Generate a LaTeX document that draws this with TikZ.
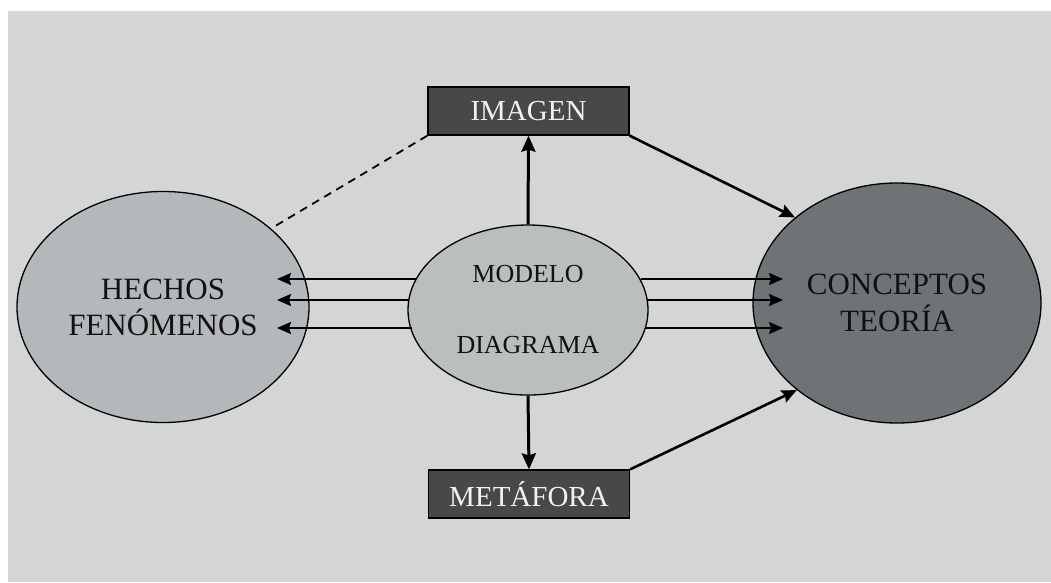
\documentclass[tikz,border=0pt]{standalone}
\usepackage{fontspec}
\setmainfont{Liberation Serif}
\usetikzlibrary{shapes.geometric,arrows.meta,calc}
\definecolor{bgc}{HTML}{D4D6D6}
\definecolor{lightell}{HTML}{B5B8BA}
\definecolor{midell}{HTML}{BBBEBF}
\definecolor{darkell}{HTML}{6F7375}
\definecolor{boxc}{HTML}{47484A}
\definecolor{boxtext}{HTML}{F2F2F2}
\definecolor{ink}{HTML}{111111}
\begin{document}
\begin{tikzpicture}[x=1pt,y=-1pt,
  ell/.style={ellipse,draw=black,line width=1.3pt,inner sep=0pt,text=ink,align=center},
  lbox/.style={rectangle,draw=black,line width=1.3pt,fill=boxc,text=boxtext,inner sep=0pt,
    minimum width=201pt,minimum height=48pt,font=\fontsize{29}{34}\selectfont},
  harr/.style={line width=2.2pt,-{Stealth[length=14pt,width=12pt,inset=2pt]}},
  varr/.style={line width=3pt,-{Stealth[length=16pt,width=14pt,inset=2pt]}},
  darr/.style={line width=2.6pt,-{Stealth[length=15pt,width=13pt,inset=2pt]}},
  dline/.style={line width=1.8pt,dash pattern=on 8pt off 6pt}]
\useasboundingbox (0,0) rectangle (1051,582);
\fill[white] (0,0) rectangle (1051,582);
\fill[bgc] (8,11) rectangle (1051,582);

\node[ell,fill=lightell,minimum width=292pt,minimum height=231pt,
  font=\fontsize{31}{36}\selectfont] (left) at (163,307) {HECHOS\\FENÓMENOS};
\node[ell,fill=midell,minimum width=240pt,minimum height=170pt,
  font=\fontsize{26}{71}\selectfont] (mid) at (528,310) {MODELO\\DIAGRAMA};
\node[ell,fill=darkell,minimum width=288pt,minimum height=240pt,
  font=\fontsize{31}{37}\selectfont] (right) at (897,303) {CONCEPTOS\\TEORÍA};

\node[lbox] (img) at (528.5,111) {IMAGEN};
\node[lbox] (met) at (529,494) {METÁFORA};

% left arrows
\coordinate (l1) at (277,279);
\coordinate (l2) at (277,300);
\coordinate (l3) at (277,328);
\draw[harr] ($(mid.center)+(-112,-31)$) -- (l1);
\draw[harr] ($(mid.center)+(-119,-10)$) -- (l2);
\draw[harr] ($(mid.center)+(-116,18)$) -- (l3);
% right arrows
\coordinate (r1) at (783,279);
\coordinate (r2) at (783,300);
\coordinate (r3) at (783,328);
\draw[harr] ($(mid.center)+(113,-31)$) -- (r1);
\draw[harr] ($(mid.center)+(119,-10)$) -- (r2);
\draw[harr] ($(mid.center)+(117,18)$) -- (r3);

% vertical arrows
\draw[varr] (mid.north) -- (img.south);
\draw[varr] (mid.south) -- (met.north);

% diagonal arrows
\draw[darr] (img.south east) -- (right.140);
\draw[darr] (met.north east) -- (right.221);

% dashed line
\draw[dline] (img.south west) -- (left.36);
\end{tikzpicture}
\end{document}
